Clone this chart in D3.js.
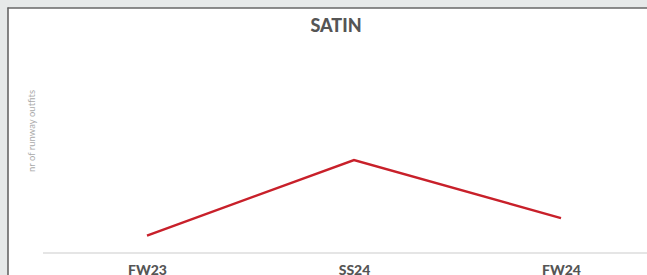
<!DOCTYPE html>
<html><head><meta charset="utf-8">
<script src="https://cdn.jsdelivr.net/npm/d3@7/dist/d3.min.js"></script>
<style>html,body{margin:0;padding:0;background:#fff;overflow:hidden;}svg{display:block;}</style>
</head><body>
<script>
const categories = ["FW23", "SS24", "FW24"];
const values = [3, 16, 6];
const title = "SATIN";
const yLabel = "nr of runway outfits";

const W = 647, H = 275;
const svg = d3.select("body").append("svg").attr("width", W).attr("height", H);

// frame
svg.append("rect").attr("x",0).attr("y",0).attr("width",W).attr("height",H).attr("fill","#e6e9e9");
svg.append("rect").attr("x",8).attr("y",8).attr("width",W).attr("height",H).attr("fill","#fff");
svg.append("line").attr("x1",8).attr("x2",8).attr("y1",7.5).attr("y2",H).attr("stroke","#666").attr("stroke-width",1.6);
svg.append("line").attr("x1",7.5).attr("x2",W).attr("y1",8).attr("y2",8).attr("stroke","#666").attr("stroke-width",1.6);

const x = d3.scalePoint().domain(categories).range([147, 561]);
const y = d3.scaleLinear().domain([0, 30]).range([253, 78.6]);

// title
svg.append("text").attr("x", 336).attr("y", 32).attr("text-anchor","middle")
  .attr("font-family","Lato").attr("font-weight","900").attr("font-size",18)
  .attr("fill","#555").text(title);

// y label
svg.append("text").attr("transform","translate(35,131) rotate(-90)").attr("text-anchor","middle")
  .attr("font-family","Lato").attr("font-weight",400).attr("font-size",9.5)
  .attr("fill","#aaa").text(yLabel);

// x axis
const xAxis = svg.append("g").attr("transform","translate(0,253)")
  .call(d3.axisBottom(x).tickSize(0).tickPadding(12));
xAxis.select(".domain").remove();
xAxis.append("line").attr("x1",43).attr("x2",W).attr("y1",0).attr("y2",0)
  .attr("stroke","#ddd").attr("stroke-width",1.5);
xAxis.selectAll("text").attr("font-family","Lato").attr("font-weight","900")
  .attr("font-size",14).attr("fill","#555");

// line
const line = d3.line().x((d,i)=>x(categories[i])).y(d=>y(d));
svg.append("path").datum(values).attr("d", line).attr("fill","none")
  .attr("stroke","#c8202a").attr("stroke-width",2.5);
</script>
</body></html>
